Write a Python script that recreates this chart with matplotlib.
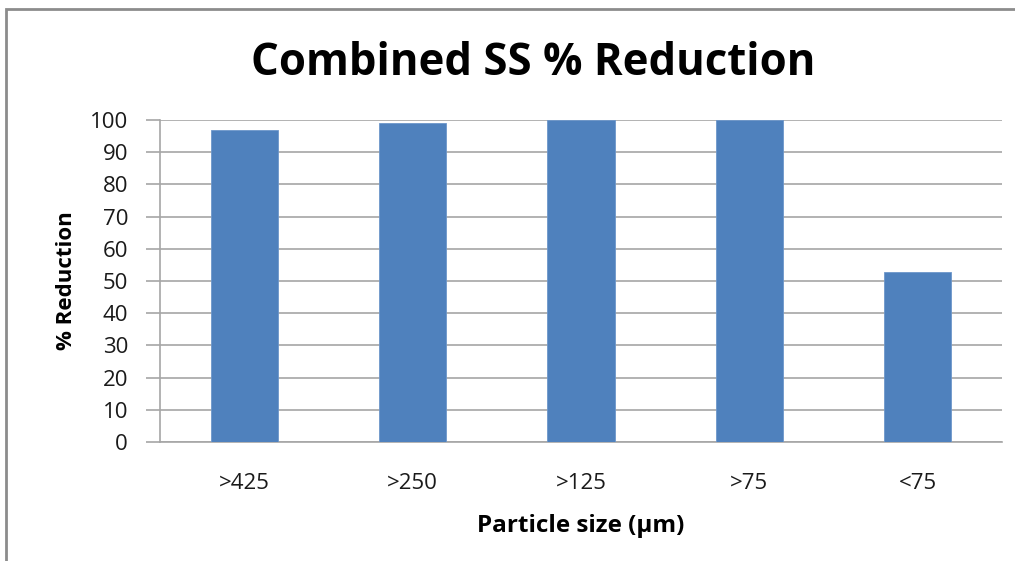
import matplotlib.pyplot as plt
from matplotlib.patches import Rectangle

categories = ['>425', '>250', '>125', '>75', '<75']
reduction = [97.0, 99.1, 100.0, 100.0, 52.7]
y_ticks = [0, 10, 20, 30, 40, 50, 60, 70, 80, 90, 100]

plt.rcParams['font.family'] = ['Open Sans', 'DejaVu Sans']

fig = plt.figure(figsize=(10.15, 5.61), dpi=100)
W, H = 1015, 561
ax = fig.add_axes([160 / W, 119 / H, 842 / W, 322 / H])

# marco gris alrededor del grafico
fig.patches.append(Rectangle((6 / W, -0.1), 1.2, (H - 9) / H + 0.1,
                             transform=fig.transFigure, fill=False,
                             edgecolor='#8c8c8c', linewidth=2))

x = range(len(categories))
ax.bar(x, reduction, width=0.4, color='#4f81bd', edgecolor='#6d97cb',
       linewidth=0.6, zorder=3)

ax.set_xlim(-0.5, len(categories) - 0.5)
ax.set_ylim(0, 100)
ax.set_yticks(y_ticks)
ax.set_xticks(list(x))
ax.set_xticklabels(categories)
ax.yaxis.grid(True, color='#a6a6a6', linewidth=1.2, zorder=0)

for s in ['top', 'right']:
    ax.spines[s].set_visible(False)
for s in ['left', 'bottom']:
    ax.spines[s].set_color('#a6a6a6')
    ax.spines[s].set_linewidth(1.2)

ax.tick_params(axis='y', length=10, color='#a6a6a6', width=1.2,
               labelsize=16, pad=13, labelcolor='#1a1a1a')
ax.tick_params(axis='x', length=0, labelsize=16, pad=22,
               labelcolor='#1a1a1a')

ax.set_ylabel('% Reduction', fontsize=16, fontweight='bold', labelpad=9)
ax.set_xlabel('Particle size (μm)', fontsize=17.5, fontweight='bold',
              labelpad=15)
fig.text(533 / W, 1 - 64 / H, 'Combined SS % Reduction', fontsize=31.5,
         fontweight='bold', ha='center', va='center')

fig.savefig('out.png', dpi=100)
